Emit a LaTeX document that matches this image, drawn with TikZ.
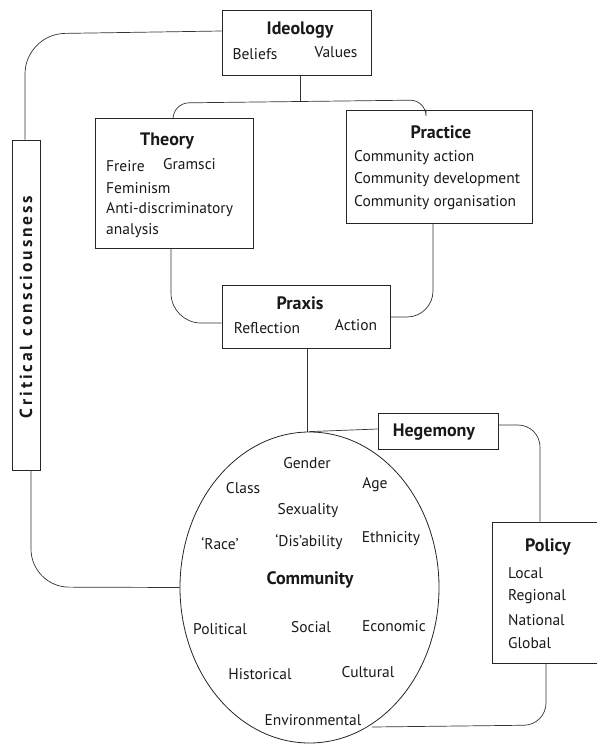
\documentclass[tikz,border=0pt]{standalone}
\usepackage{fontspec}
\setmainfont{PT Sans}
\usetikzlibrary{shapes.geometric}
\begin{document}
\begin{tikzpicture}[x=1pt,y=-1pt,
  box/.style={draw=black!85,line width=0.8pt,inner sep=0pt},
  conn/.style={draw=black!80,line width=0.7pt},
  ttl/.style={font=\fontsize{18}{20}\selectfont\bfseries,inner sep=0pt,text=black!90},
  txt/.style={font=\fontsize{15.5}{18}\selectfont,inner sep=0pt,text=black!90},
  ltxt/.style={txt,anchor=west}]
\useasboundingbox (0,0) rectangle (597,745);
\clip (0,0) rectangle (597,745);
% boxes
\node[box,minimum width=149pt,minimum height=65pt] (ideo) at (296.5,42.5) {};
\node[box,minimum width=158pt,minimum height=130pt] (theory) at (174,183) {};
\node[box,minimum width=186pt,minimum height=113pt] (practice) at (439,166.5) {};
\node[box,minimum width=168pt,minimum height=63pt] (praxis) at (306,316.5) {};
\node[box,minimum width=28pt,minimum height=330pt] (cc) at (26,305) {};
\node[box,minimum width=120pt,minimum height=36pt] (heg) at (438,431) {};
\node[box,minimum width=140pt,minimum height=141pt] (policy) at (562,592.5) {};
\node[draw=black!85,line width=0.8pt,ellipse,minimum width=259pt,minimum height=311pt,inner sep=0pt] (comm) at (309.5,587.5) {};
% texts
\node[ttl] (tideo) at (300,30) {Ideology};
\node[txt] (tbel) at (255,54) {Beliefs};
\node[txt] (tval) at (336,52) {Values};
\node[ttl] (tth) at (167,141) {Theory};
\node[ltxt] (tfr) at (106,166) {Freire};
\node[ltxt] (tgr) at (163,164) {Gramsci};
\node[ltxt] (tfem) at (106,188) {Feminism};
\node[ltxt] (tanti) at (106,210) {Anti-discriminatory};
\node[ltxt] (tana) at (106,231) {analysis};
\node[ttl] (tpr) at (441,132) {Practice};
\node[ltxt] (tca) at (354,158) {Community action};
\node[ltxt] (tcd) at (354,180) {Community development};
\node[ltxt] (tco) at (354,203) {Community organisation};
\node[ttl] (tpx) at (300,303) {Praxis};
\node[txt] (tref) at (267,328) {Reflection};
\node[txt] (tact) at (356,325) {Action};
\node[ttl,rotate=90,font=\fontsize{17.5}{19}\selectfont\bfseries] (tcc) at (26,307) {C\,r\,i\,t\,i\,c\,a\,l\ \ c\,o\,n\,s\,c\,i\,o\,u\,s\,n\,e\,s\,s};
\node[ttl] (theg) at (434,432) {Hegemony};
\node[ttl] (tpol) at (548,547) {Policy};
\node[ltxt] (tloc) at (508,573) {Local};
\node[ltxt] (treg) at (508,597) {Regional};
\node[ltxt] (tnat) at (508,620) {National};
\node[ltxt] (tglo) at (508,643) {Global};
\node[txt] (tgen) at (307,463) {Gender};
\node[txt] (tcla) at (243,488) {Class};
\node[txt] (tage) at (375,485) {Age};
\node[txt] (tsex) at (308,511) {Sexuality};
\node[txt] (trace) at (220,544) {`Race'};
\node[txt] (tdis) at (309,542) {`Dis'ability};
\node[txt] (teth) at (391,539) {Ethnicity};
\node[ttl] (tcom) at (310,580) {Community};
\node[txt] (tpolit) at (220,629) {Political};
\node[txt] (tsoc) at (311,627) {Social};
\node[txt] (teco) at (394,626) {Economic};
\node[txt] (this) at (260,674) {Historical};
\node[txt] (tcul) at (368,672) {Cultural};
\node[txt] (tenv) at (313,720) {Environmental};
% connectors
\coordinate (brl) at (173,103);
\coordinate (brr) at (426,100);
\draw[conn] (ideo.south -| 300,0) -- (300,101);
\draw[conn,rounded corners=16pt] (theory.north -| brl) -- (brl) -- (brr) -- (practice.north -| brr);
\draw[conn,rounded corners=40pt] (ideo.west |- 0,31) -- (25,34) -- (cc.north -| 25,0);
\draw[conn,rounded corners=30pt] (theory.south -| 171,0) -- (171,323) -- (praxis.west |- 0,323);
\draw[conn,rounded corners=26pt] (practice.south -| 433,0) -- (433,317) -- (praxis.east |- 0,317);
\draw[conn] (praxis.south -| 307,0) -- (comm.north -| 307,0);
\draw[conn,rounded corners=38pt] (cc.south -| 31,0) -- (31,587) -- (comm.west);
\draw[conn] (comm.north) -- (heg.west |- 0,429);
\draw[conn,rounded corners=22pt] (heg.east |- 0,425) -- (540,425) -- (policy.north -| 540,0);
\coordinate (ce) at (372,727);
\draw[conn,rounded corners=22pt] (policy.south -| 546,0) -- (546,725) -- (ce);
\end{tikzpicture}
\end{document}
